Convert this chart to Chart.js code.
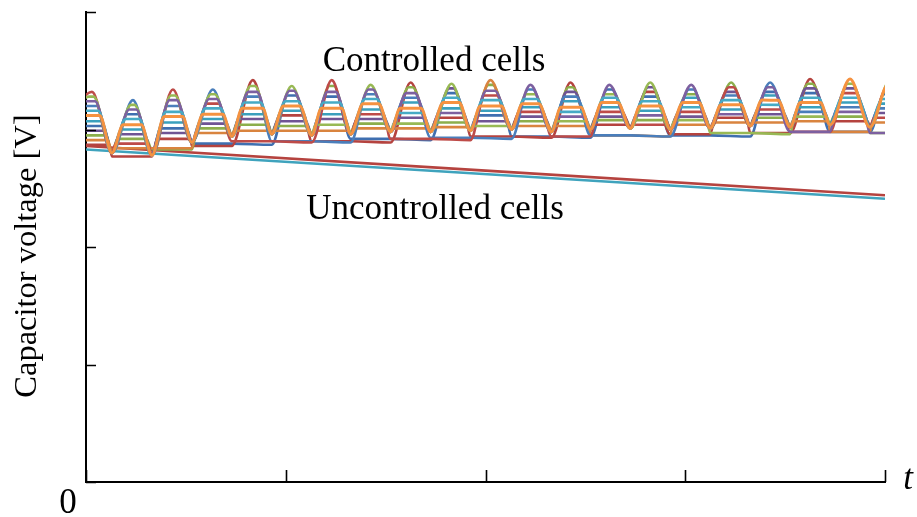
<!DOCTYPE html>
<html>
<head>
<meta charset="utf-8">
<script src="https://cdn.jsdelivr.net/npm/chart.js@4"></script>
<style>
  html, body { margin: 0; padding: 0; background: #fff; }
  canvas { display: block; }
</style>
</head>
<body>
<canvas id="capChart" width="917" height="517"></canvas>
<script>
// common waveform: troughs and peaks (time in axis units 0..800, voltage in 0..400)
const troughT = [-30, 26, 66, 106, 146, 186, 226, 265, 305, 345, 385, 426, 466, 505, 545, 585, 625, 665, 705, 745, 785, 825];
const troughV = [283, 280, 278, 289, 294, 296, 295, 296, 298, 298, 299, 300, 298, 300, 301, 300, 301, 303, 302, 304, 302, 303];
const peakT = [6, 47, 87, 127, 167, 206, 246, 285, 325, 366, 405, 445, 485, 524, 565, 606, 646, 685, 725, 765, 805];
const peakV = [332, 325, 334, 334, 342, 337, 342, 338, 340, 339, 342, 338, 340, 338, 340, 338, 340, 340, 343, 343, 342];

// plateau level of each controlled cell per period (below the trough = bypassed)
const blue1   = [320, 325, 320, 334, 328, 290, 289, 330, 327, 293, 292, 334, 328, 295, 294, 334, 329, 340, 315, 319, 318];
const red1    = [332, 288, 334, 322, 290, 289, 342, 313, 292, 291, 329, 315, 294, 315, 304, 315, 336, 317, 298, 331, 310];
const green1  = [328, 321, 329, 330, 337, 337, 304, 338, 305, 339, 303, 330, 307, 330, 340, 308, 297, 296, 311, 339, 342];
const purple1 = [324, 317, 325, 326, 332, 333, 332, 334, 331, 314, 333, 338, 311, 338, 312, 338, 313, 336, 298, 315, 297];
const aqua1   = [316, 309, 315, 318, 323, 324, 323, 326, 314, 327, 325, 326, 315, 327, 324, 319, 325, 321, 327, 327, 326];
const orange1 = [312, 304, 311, 313, 318, 320, 318, 322, 318, 323, 320, 322, 319, 323, 320, 323, 321, 325, 323, 343, 338];
const blue2   = [303, 313, 301, 288, 287, 329, 328, 292, 291, 331, 312, 294, 293, 334, 328, 295, 294, 332, 331, 298, 330];
const red2    = [287, 277, 292, 286, 342, 312, 290, 289, 340, 310, 294, 293, 340, 304, 332, 296, 310, 297, 343, 307, 334];
const green2  = [295, 292, 283, 301, 304, 303, 337, 305, 336, 306, 338, 307, 336, 308, 308, 330, 340, 310, 339, 311, 297];
const purple2 = [299, 296, 297, 305, 309, 307, 309, 309, 310, 335, 307, 311, 332, 311, 336, 311, 332, 313, 335, 335, 314];
const aqua2   = [307, 300, 306, 309, 313, 316, 313, 317, 323, 318, 316, 319, 324, 319, 316, 327, 317, 329, 319, 323, 322];
const orange2 = [291, 284, 284, 297, 299, 299, 299, 301, 301, 302, 342, 303, 303, 295, 294, 304, 306, 306, 307, 298, 306];

// uncontrolled cells: start and end values
const uncontrolledT = [0, 800];
const uncRed  = [286, 244];
const uncTeal = [283, 241];

const xTicks = [0, 200, 400, 600, 800];
const yTicks = [0, 100, 200, 300, 400];

// turn plateau levels into a trace that follows the common waveform
function cellPoints(levels) {
  const pts = [];
  const low = k => levels[k] < Math.max(troughV[k], troughV[k + 1]);
  for (let k = 0; k < peakT.length; k++) {
    let v = troughV[k];
    if (k > 0 && low(k - 1)) v = levels[k - 1];
    else if (low(k)) v = levels[k];
    pts.push({x: troughT[k], y: v});
    if (low(k)) continue;
    const L = Math.min(levels[k], peakV[k]);
    const up = Math.max(0, (L - troughV[k]) / (peakV[k] - troughV[k]));
    const down = Math.max(0, (L - troughV[k + 1]) / (peakV[k] - troughV[k + 1]));
    const x1 = troughT[k] + up * (peakT[k] - troughT[k]);
    const x2 = peakT[k] + (1 - down) * (troughT[k + 1] - peakT[k]);
    pts.push({x: x1, y: L});
    if (x2 > x1 + 0.01) pts.push({x: x2, y: L});
  }
  const n = peakT.length;
  pts.push({x: troughT[n], y: low(n - 1) ? levels[n - 1] : troughV[n]});
  return pts;
}

function line(data, color, width) {
  return {
    data: data,
    borderColor: color,
    borderWidth: width || 2.6,
    pointRadius: 0,
    fill: false,
    cubicInterpolationMode: 'monotone',
    borderJoinStyle: 'round',
    clip: 0
  };
}

// first dataset is drawn on top
const datasets = [
  line(cellPoints(orange1), '#F69240', 3),
  line(cellPoints(aqua1), '#46AAC5'),
  line(cellPoints(purple1), '#7D60A0'),
  line(cellPoints(green1), '#98B954'),
  line(cellPoints(red1), '#BE4B48'),
  line(cellPoints(blue1), '#4A7EBB'),
  line(cellPoints(orange2), '#D9843F'),
  line(cellPoints(aqua2), '#3AA0BD'),
  line(cellPoints(purple2), '#6F5494'),
  line(cellPoints(green2), '#8CAE4B'),
  line(cellPoints(red2), '#B5433F'),
  line(cellPoints(blue2), '#3F6FB0'),
  line(uncontrolledT.map((t, i) => ({x: t, y: uncTeal[i]})), '#3FA3BD'),
  line(uncontrolledT.map((t, i) => ({x: t, y: uncRed[i]})), '#B5433F')
];

const decor = {
  id: 'decor',
  afterDraw(chart) {
    const c = chart.ctx, a = chart.chartArea;
    const xs = chart.scales.x, ys = chart.scales.y;
    c.save();
    c.strokeStyle = '#000';
    c.lineWidth = 1.6;
    c.beginPath();
    yTicks.forEach(v => {
      const y = Math.round(ys.getPixelForValue(v)) + 0.5;
      c.moveTo(a.left, y); c.lineTo(a.left + 10, y);
    });
    xTicks.forEach(v => {
      const x = Math.round(xs.getPixelForValue(v)) + 0.5;
      c.moveTo(x, a.bottom); c.lineTo(x, a.bottom - 12);
    });
    c.stroke();

    c.fillStyle = '#000';
    c.font = '35px "Liberation Serif", "Times New Roman", serif';
    c.textAlign = 'center';
    c.textBaseline = 'alphabetic';
    c.fillText('Controlled cells', 434, 71);
    c.fillText('Uncontrolled cells', 435, 219);
    c.fillText('0', 68, 513);
    c.font = 'italic 35px "Liberation Serif", "Times New Roman", serif';
    c.fillText('t', 908, 489);

    c.translate(36, 256);
    c.rotate(-Math.PI / 2);
    c.font = '32.5px "Liberation Serif", "Times New Roman", serif';
    c.fillText('Capacitor voltage [V]', 0, 0);
    c.restore();
  }
};

new Chart(document.getElementById('capChart'), {
  type: 'line',
  data: { datasets: datasets },
  options: {
    responsive: false,
    animation: false,
    layout: { padding: { left: 86, right: 32, top: 12, bottom: 35 } },
    scales: {
      x: {
        type: 'linear', min: 0, max: 800,
        ticks: { display: false },
        grid: { display: false, drawTicks: false },
        border: { color: '#000', width: 2 }
      },
      y: {
        min: 0, max: 400,
        ticks: { display: false },
        grid: { display: false, drawTicks: false },
        border: { color: '#000', width: 2 }
      }
    },
    plugins: {
      legend: { display: false },
      tooltip: { enabled: false }
    }
  },
  plugins: [decor]
});
</script>
</body>
</html>
